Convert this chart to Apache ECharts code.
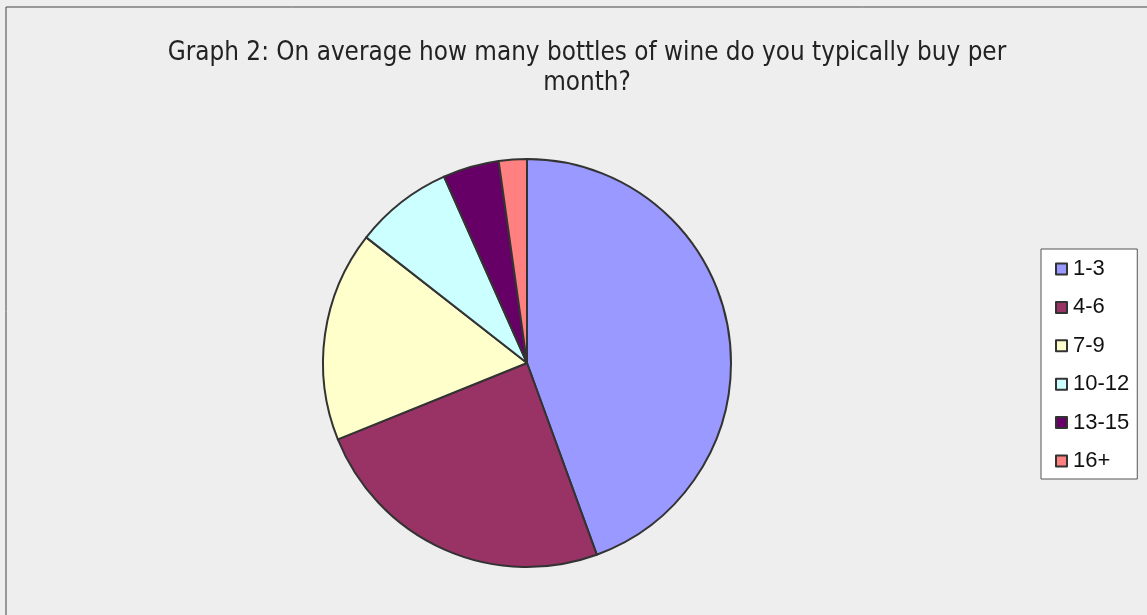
<!DOCTYPE html>
<html>
<head>
<meta charset="utf-8">
<script src="https://cdn.jsdelivr.net/npm/echarts@6/dist/echarts.min.js"></script>
<style>
  html, body { margin: 0; padding: 0; background: #eeeeee; }
  #chart { width: 1147px; height: 615px; }
</style>
</head>
<body>
<div id="chart"></div>
<script>
// Survey answers: bottles of wine bought per month
const categories = ['1-3', '4-6', '7-9', '10-12', '13-15', '16+'];
const counts = [40, 22, 15, 7, 4, 2];
const colors = ['#9999ff', '#993366', '#ffffcc', '#ccffff', '#660066', '#ff8080'];

const chart = echarts.init(document.getElementById('chart'), null, { renderer: 'canvas' });

const condensed = '"DejaVu Sans Condensed", "Liberation Sans Narrow", "Liberation Sans", sans-serif';

chart.setOption({
  backgroundColor: '#eeeeee',
  animation: false,
  color: colors,
  title: {
    text: 'Graph 2: On average how many bottles of wine do you typically buy per\nmonth?',
    left: 582,
    top: 33,
    textAlign: 'center',
    textStyle: {
      fontFamily: condensed,
      fontSize: 25.8,
      fontWeight: 'normal',
      color: '#222222',
      lineHeight: 30
    }
  },
  legend: {
    orient: 'vertical',
    left: 1041,
    top: 249,
    width: 105,
    padding: [9, 8, 7, 14],
    itemGap: 16.4,
    itemWidth: 11,
    itemHeight: 11,
    icon: 'rect',
    backgroundColor: '#ffffff',
    borderColor: '#555555',
    borderWidth: 1,
    borderRadius: 0,
    itemStyle: { borderColor: '#333333', borderWidth: 2 },
    textStyle: {
      fontFamily: '"Liberation Sans", Arial, sans-serif',
      fontSize: 22,
      color: '#111111',
      padding: [0, 0, 0, 1],
      lineHeight: 21
    },
    data: categories
  },
  graphic: [{
    type: 'rect',
    shape: { x: 6, y: 7, width: 1160, height: 640 },
    style: { fill: 'none', stroke: '#444444', lineWidth: 1 },
    silent: true
  }],
  series: [{
    type: 'pie',
    center: [527, 363],
    radius: 204,
    startAngle: 90,
    clockwise: true,
    label: { show: false },
    labelLine: { show: false },
    emphasis: { disabled: true },
    itemStyle: { borderColor: '#333333', borderWidth: 2 },
    data: categories.map((name, i) => ({ name: name, value: counts[i] }))
  }]
});
</script>
</body>
</html>
